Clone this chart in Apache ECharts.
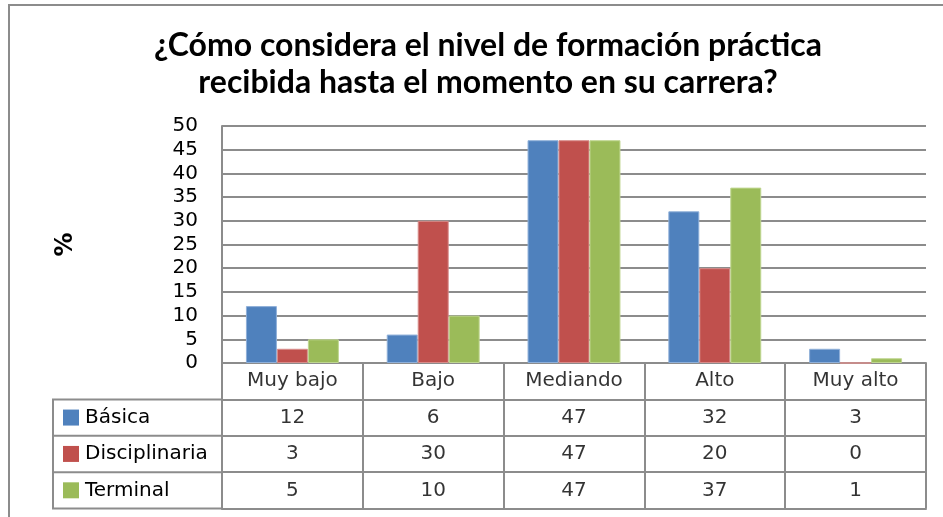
<!DOCTYPE html>
<html>
<head>
<meta charset="utf-8">
<script src="https://cdn.jsdelivr.net/npm/echarts@6/dist/echarts.min.js"></script>
<style>
  html, body { margin: 0; padding: 0; background: #fff; }
  #chart { width: 943px; height: 517px; }
</style>
</head>
<body>
<div id="chart"></div>
<script>
// Categories and survey results (%)
var categories = ['Muy bajo', 'Bajo', 'Mediando', 'Alto', 'Muy alto'];
var seriesNames = ['Básica', 'Disciplinaria', 'Terminal'];
var basica = [12, 6, 47, 32, 3];
var disciplinaria = [3, 30, 47, 20, 0];
var terminal = [5, 10, 47, 37, 1];
var yTicks = { min: 0, max: 50, interval: 5 };

var colors = ['#4F81BD', '#C0504D', '#9BBB59'];
var edgeColors = ['#8FB0D9', '#D88C8A', '#BFD690'];
var values = [basica, disciplinaria, terminal];

var FONT = 'DejaVu Sans';
var LINE = '#8C8C8C';
var TXT = 20;

// layout of the plot and the data table beneath it
var plotLeft = 222, plotRight = 926, plotTop = 126, plotBottom = 363;
var tableBottom = 508.5, tableLeft = 53;
var rowH = (tableBottom - plotBottom) / 4;

var chart = echarts.init(document.getElementById('chart'), null, { renderer: 'canvas' });

var barSeries = values.map(function (vals, i) {
  return {
    name: seriesNames[i],
    type: 'bar',
    xAxisIndex: 0,
    yAxisIndex: 0,
    data: vals,
    barGap: '0%',
    barCategoryGap: '34%',
    itemStyle: { color: colors[i], borderColor: edgeColors[i], borderWidth: 1 },
    silent: true
  };
});

// header row with category names
var headerCells = categories.map(function (c, j) { return { value: [j, 0], name: c }; });
// value cells of the data table
var valueCells = [];
values.forEach(function (vals, i) {
  vals.forEach(function (v, j) {
    valueCells.push({ value: [j, i + 1], name: String(v) });
  });
});

var cellLabel = {
  show: true,
  position: 'inside',
  formatter: function (p) { return p.name; },
  fontFamily: FONT,
  fontSize: TXT,
  color: '#000'
};

var rowRich = { t: { fontFamily: FONT, fontSize: TXT, color: '#000', padding: [0, 0, 0, 6] } };
seriesNames.forEach(function (n, i) {
  rowRich['k' + i] = { backgroundColor: colors[i], width: 16, height: 16 };
});

var option = {
  animation: false,
  title: {
    text: '¿Cómo considera el nivel de formación práctica\nrecibida hasta el momento en su carrera?',
    left: 483,
    top: 22,
    textAlign: 'center',
    textStyle: {
      fontFamily: 'Lato',
      fontWeight: 'bold',
      fontSize: 32,
      lineHeight: 37,
      color: '#000'
    }
  },
  grid: [
    { left: plotLeft, right: 943 - plotRight, top: plotTop, bottom: 517 - plotBottom },
    { left: plotLeft, right: 943 - plotRight, top: plotBottom, bottom: 517 - tableBottom }
  ],
  xAxis: [
    {
      type: 'category', gridIndex: 0, data: categories,
      axisLine: { show: true, lineStyle: { color: LINE, width: 2 } },
      axisTick: { show: false }, axisLabel: { show: false }, splitLine: { show: false }
    },
    {
      type: 'category', gridIndex: 1, data: categories,
      axisLine: { show: true, lineStyle: { color: LINE, width: 2 } },
      axisTick: { show: false }, axisLabel: { show: false },
      splitLine: { show: true, lineStyle: { color: LINE, width: 2 } }
    }
  ],
  yAxis: [
    {
      type: 'value', gridIndex: 0,
      min: yTicks.min, max: yTicks.max, interval: yTicks.interval,
      name: '%', nameLocation: 'middle', nameRotate: 90, nameGap: 144,
      nameTextStyle: { fontFamily: FONT, fontWeight: 'bold', fontSize: 24, color: '#000' },
      axisLine: { show: true, lineStyle: { color: LINE, width: 2 } },
      axisTick: { show: false },
      axisLabel: { fontFamily: FONT, fontSize: TXT, color: '#000', margin: 24 },
      splitLine: { show: true, lineStyle: { color: LINE, width: 2 } }
    },
    {
      type: 'category', gridIndex: 1, inverse: true,
      data: [''].concat(seriesNames),
      axisLine: { show: true, lineStyle: { color: LINE, width: 2 } },
      axisTick: { show: false },
      axisLabel: {
        align: 'left', margin: plotLeft - 63,
        formatter: function (v, idx) {
          if (idx === 0) return '';
          return '{k' + (idx - 1) + '|}{t|' + v + '}';
        },
        rich: rowRich
      },
      splitLine: { show: true, lineStyle: { color: LINE, width: 2 } }
    }
  ],
  series: barSeries.concat([
    {
      type: 'scatter', xAxisIndex: 1, yAxisIndex: 1, symbolSize: 0,
      data: headerCells, label: cellLabel, silent: true
    },
    {
      type: 'scatter', xAxisIndex: 1, yAxisIndex: 1, symbolSize: 0,
      data: valueCells, label: cellLabel, silent: true
    }
  ]),
  graphic: [
    // outer chart frame
    {
      type: 'rect', silent: true,
      shape: { x: 9, y: 5, width: 950, height: 530 },
      style: { fill: null, stroke: LINE, lineWidth: 2 }
    },
    // frame of the series-name column of the data table
    {
      type: 'polyline', silent: true,
      shape: { points: [[plotLeft, plotBottom + rowH], [tableLeft, plotBottom + rowH], [tableLeft, tableBottom], [plotLeft, tableBottom]] },
      style: { fill: null, stroke: LINE, lineWidth: 2 }
    },
    {
      type: 'line', silent: true,
      shape: { x1: tableLeft, y1: plotBottom + 2 * rowH, x2: plotLeft, y2: plotBottom + 2 * rowH },
      style: { stroke: LINE, lineWidth: 2 }
    },
    {
      type: 'line', silent: true,
      shape: { x1: tableLeft, y1: plotBottom + 3 * rowH, x2: plotLeft, y2: plotBottom + 3 * rowH },
      style: { stroke: LINE, lineWidth: 2 }
    }
  ]
};

chart.setOption(option);
</script>
</body>
</html>
